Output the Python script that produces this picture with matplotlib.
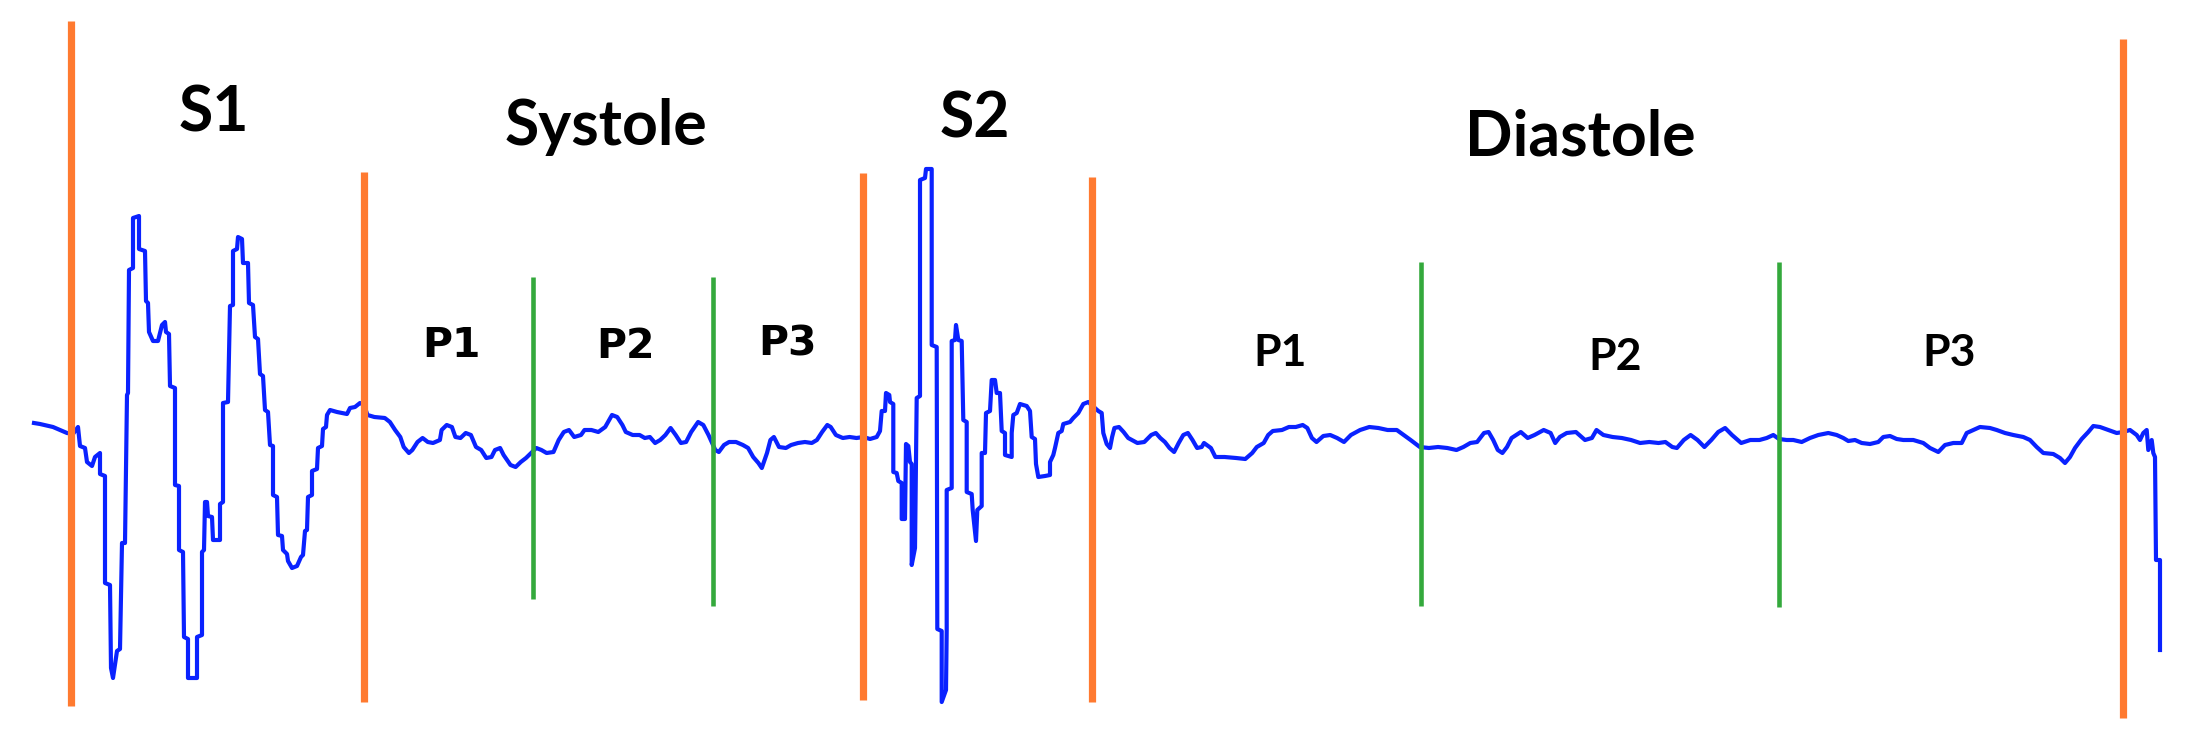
import matplotlib.pyplot as plt

# Heart sound trace (sample index, amplitude)
wave_t = [
    34, 40, 53, 67, 73, 78, 80, 85, 87, 92, 95, 100, 100, 105, 105, 110, 111, 113, 117, 120,
    122, 125, 127, 128, 129, 133, 133, 139, 139, 145, 146, 148, 149, 153, 158, 162, 165, 166, 169, 170,
    175, 175, 179, 179, 183, 184, 188, 188, 197, 197, 202, 202, 204, 205, 207, 208, 212, 213, 220, 220,
    223, 223, 228, 230, 233, 233, 237, 238, 242, 243, 248, 249, 253, 255, 258, 260, 263, 265, 268, 270,
    273, 273, 277, 278, 282, 283, 287, 288, 292, 297, 301, 303, 305, 307, 308, 312, 312, 317, 318, 322,
    323, 326, 327, 330, 337, 342, 347, 350, 355, 360, 364,
    # systole
    367.5, 374.4, 384.8, 389.9, 395.1, 400.3, 403.7, 408.9, 412.3, 417.5, 422.6, 427.8, 433, 439.9,
    441.6, 446.7, 451.9, 455.4, 460.5, 465.7, 470.9, 476, 481.2, 486.3, 491.5, 495, 500.1, 503.6, 507,
    510.5, 515.6, 520.8, 526, 531.1, 536.3, 541.4, 546.6, 553.5, 558.7, 563.8, 569, 574.2, 581, 584.5,
    591.4, 598.3, 605.2, 612, 617.2, 622.4, 625.8, 632.7, 639.6, 644.8, 649.9, 655.1, 660.2, 665.4,
    670.6, 675.7, 680.9, 686.1, 691.2, 698.1, 703.3, 708.5, 715.3, 718.8, 724, 729.1, 736, 742.9,
    748.1, 753.2, 758.4, 761.8, 767, 770.4, 773.9, 779, 785.9, 791.1, 798, 804.9, 811.8, 816.9, 822.1,
    827.3, 830.7, 835.9, 842.8, 849.6, 856.5, 863.4,
    # S2
    870, 876.7, 880, 881.7, 885, 886, 889.3, 890, 893.3, 893.3, 896.7, 898.3, 901.7, 901.7, 905, 906,
    908.3, 910, 911.7, 911.7, 915, 916.7, 920, 920, 925, 926, 931.7, 931.7, 936.7, 937.3, 941.7, 941.7,
    946, 946.7, 946.7, 951.7, 951.7, 955, 956, 958.3, 961.7, 963.3, 966.7, 966.7, 971.7, 972.7, 976,
    977.3, 981.7, 981.7, 985, 986, 990, 991.7, 995, 996.7, 1000, 1001.7, 1005, 1005, 1011.7, 1011.7,
    1013.3, 1016.7, 1020, 1026.7, 1030, 1031.7, 1035, 1036, 1038.3, 1045, 1050, 1050, 1053.3, 1055,
    1058.3, 1061.7, 1063.3, 1070, 1073.3, 1078.3, 1083.3, 1088.3, 1098.3, 1101.7, 1103.3, 1106.7, 1110,
    # diastole
    1112.1, 1114.4, 1119, 1123.6, 1128.2, 1137.4, 1144.3, 1151.2, 1155.8, 1160.3, 1164.9, 1169.5,
    1174.1, 1178.7, 1183.3, 1187.9, 1192.5, 1197.1, 1201.7, 1204, 1210.9, 1215.4, 1224.6, 1236.1,
    1245.3, 1252.2, 1256.8, 1263.7, 1268.2, 1272.8, 1282, 1288.9, 1295.8, 1302.7, 1307.3, 1311.9,
    1316.5, 1323.3, 1330.2, 1337.1, 1344, 1350.9, 1360.1, 1369.3, 1378.4, 1387.6, 1396.8, 1403.7,
    1410.6, 1419.8, 1428.9, 1438.1, 1447.3, 1456.5, 1463.4, 1470.3, 1477.1, 1484, 1488.6, 1493.2,
    1497.8, 1502.4, 1507, 1511.6, 1516.2, 1520.8, 1527.7, 1534.5, 1543.7, 1550.6, 1555.2, 1559.8,
    1566.7, 1575.9, 1585, 1591.9, 1596.5, 1603.4, 1612.6, 1621.8, 1631, 1640.1, 1649.3, 1658.5,
    1665.4, 1672.3, 1676.9, 1683.8, 1690.6, 1697.5, 1704.4, 1711.3, 1718.2, 1725.1, 1732, 1741.2,
    1750.3, 1759.5, 1766.7, 1773.3, 1779, 1786.7, 1793.3, 1801.7, 1810, 1818.3, 1828.3, 1836.7,
    1843.3, 1848.3, 1855, 1861.7, 1870, 1878.3, 1883.3, 1890, 1896.7, 1903.3, 1913.3, 1923.3, 1930,
    1938.3, 1945, 1953.3, 1961.7, 1966.7, 1973.3, 1980, 1990, 1996.7, 2005, 2013.3, 2023.3, 2030,
    2036.7, 2043.3, 2053.3, 2060, 2065, 2070, 2075, 2081.7, 2088.3, 2093.3, 2100, 2108.3, 2116.7,
    2123.3, 2130, 2136.7, 2140, 2143.3, 2146.7, 2148.3, 2151.7, 2153.3, 2155, 2156, 2160, 2160,
]
wave_amp = [
    7, 6, 3, -3, -4, 3, -16, -18, -32, -36, -27, -23, -44, -46, -153, -155, -238, -248, -221, -219,
    -113, -113, 35, 37, 160, 162, 212, 214, 181, 179, 129, 127, 98, 89, 89, 105, 108, 98, 96, 44,
    42, -55, -56, -120, -122, -207, -209, -248, -248, -207, -205, -122, -120, -72, -72, -86, -87, -110, -110, -74,
    -72, 27, 28, 124, 125, 179, 181, 193, 191, 167, 167, 127, 125, 93, 91, 56, 54, 20, 18, -15,
    -16, -65, -67, -105, -106, -120, -124, -131, -138, -136, -127, -125, -101, -100, -67, -65, -41, -39, -18, -16,
    1, 3, 15, 20, 18, 17, 16, 22, 23, 27, 25,
    # systole
    15, 13, 12, 8, 0, -7, -17, -23, -20, -12, -8, -12, -13, -10,
    0, 5, 3, -7, -8, -3, -5, -17, -20, -28, -27, -20, -18, -25, -30,
    -35, -37, -32, -28, -23, -18, -20, -23, -22, -10, -2, 0, -7, -5, 0,
    0, -2, 3, 15, 13, 5, -2, -5, -5, -8, -7, -13, -10, -5,
    2, -5, -13, -12, -2, 8, 5, -5, -20, -22, -15, -12, -12, -15,
    -18, -27, -33, -38, -23, -10, -7, -17, -18, -15, -13, -12, -13, -10, -2,
    5, 3, -5, -8, -7, -8, -7,
    # S2
    -9, -7, -1, 19, 19, 37, 35, 28, 26, -42, -43, -51, -53, -89, -89, -14,
    -16, -32, -34, -135, -118, 32, 34, 250, 252, 261, 261, 85, 83, -199, -201, -272,
    -260, -199, -60, -58, 89, 90, 105, 90, 89, 10, 8, -62, -64, -80, -111,
    -80, -76, -23, -23, 17, 19, 50, 50, 37, 37, -1, -3, -25, -27, -3,
    15, 17, 26, 24, 19, -7, -9, -34, -47, -46, -45, -32, -25, -18,
    -3, -1, 6, 8, 12, 17, 26, 28, 19, 17, -3, -14, -18,
    # diastole
    -7, 2, 3, -2, -8, -13, -12, -5, -3, -8, -12, -18,
    -22, -13, -5, -3, -10, -18, -17, -13, -18, -27, -27, -28,
    -29, -23, -17, -13, -5, -1, 0, 3, 3, 5, 2, -8,
    -12, -6, -5, -8, -12, -5, 0, 3, 2, 0, 0, -5,
    -10, -17, -18, -17, -18, -20, -17, -13, -12, -3, -2, -10,
    -20, -23, -17, -8, -5, -2, -8, -5, 0, -3, -13, -7,
    -3, -2, -10, -8, 0, -5, -7, -8, -10, -13, -12, -13,
    -12, -17, -18, -10, -5, -10, -17, -10, -2, 2, -5, -13,
    -10, -10, -8, -5, -9, -10, -10, -12, -8, -5, -3, -5,
    -8, -11, -10, -13, -14, -12, -7, -6, -9, -10, -10, -13, -18,
    -22, -15, -13, -13, -3, 0, 3, 2, 0, -3, -5, -7, -10,
    -17, -23, -24, -28, -33, -27, -18, -9, -2, 4, 3, 0, -3,
    -2, 0, -5, -10, -3, 0, -20, -10, -23, -27, -130, -130, -220,
]

# Segment boundaries
orange_x = [71, 364, 863, 1092, 2123]
orange_top = [409, 258, 257, 253, 391]
orange_bottom = [-276, -272, -270, -272, -288]

green_x = [533, 713, 1421, 1779]
green_top = [153, 153, 168, 168]
green_bottom = [-169, -176, -176, -177]

# Labels
phase_labels = ["S1", "Systole", "S2", "Diastole"]
phase_x = [214, 606, 975, 1580]
phase_y = [298, 285, 293, 275]

sys_labels = ["P1", "P2", "P3"]
sys_x = [451, 626, 787]
sys_y = [73, 72, 75]

dia_labels = ["P1", "P2", "P3"]
dia_x = [1280, 1615, 1949]
dia_y = [64, 60, 64]

fig = plt.figure(figsize=(21.93, 7.46), dpi=100)
ax = fig.add_axes([0, 0, 1, 1])
ax.set_xlim(0, 2193)
ax.set_ylim(-316, 430)
ax.axis("off")

ax.plot(wave_t, wave_amp, color="#0a22ff", linewidth=3.0, zorder=2)
ax.vlines(orange_x, orange_bottom, orange_top, color="#ff7a30", linewidth=5.2, zorder=3)
ax.vlines(green_x, green_bottom, green_top, color="#34a93c", linewidth=3.3, zorder=3)

for label, x, y in zip(phase_labels, phase_x, phase_y):
    ax.text(x, y, label, ha="center", va="baseline", fontsize=45,
            fontweight="bold", family="Lato", color="black")

for label, x, y in zip(sys_labels, sys_x, sys_y):
    ax.text(x, y, label, ha="center", va="baseline", fontsize=29.5,
            fontweight="bold", family="DejaVu Sans", color="black")

for label, x, y in zip(dia_labels, dia_x, dia_y):
    ax.text(x, y, label, ha="center", va="baseline", fontsize=32,
            fontweight="bold", family="Lato", color="black")

fig.savefig("out.png", dpi=100, facecolor="white")
